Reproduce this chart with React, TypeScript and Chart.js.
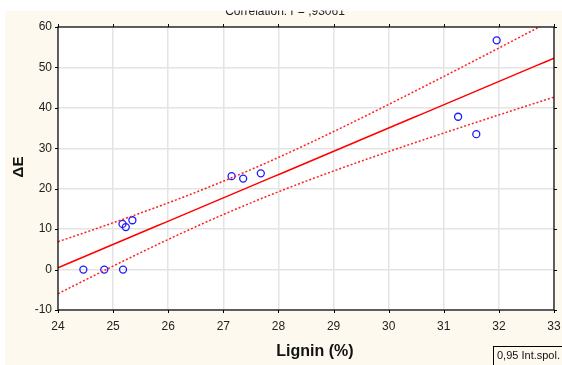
import React, { useEffect, useRef } from "react";
import { Chart, registerables } from "chart.js";

Chart.register(...registerables);

// Measured samples: lignin content (%) and colour difference ΔE
const LIGNIN = [24.46, 24.84, 25.18, 25.17, 25.23, 25.35, 27.15, 27.36, 27.68, 31.26, 31.59, 31.96];
const DELTA_E = [0, 0, 0, 11.3, 10.5, 12.2, 23.1, 22.5, 23.8, 37.8, 33.5, 56.7];

const X_TICKS = [24, 25, 26, 27, 28, 29, 30, 31, 32, 33];
const Y_TICKS = [-10, 0, 10, 20, 30, 40, 50, 60];

const TITLE = "Correlation: r = ,93061";
const X_TITLE = "Lignin (%)";
const Y_TITLE = "ΔE";
const LEGEND_TEXT = "0,95 Int.spol.";
const T_975_DF10 = 2.228; // Student t, 95 %, n - 2 = 10

// Least-squares line with 95 % confidence band for the mean
function fitLine(xs: number[], ys: number[]) {
  const n = xs.length;
  const mx = xs.reduce((a, b) => a + b, 0) / n;
  const my = ys.reduce((a, b) => a + b, 0) / n;
  let sxx = 0, sxy = 0;
  for (let i = 0; i < n; i++) {
    sxx += (xs[i] - mx) ** 2;
    sxy += (xs[i] - mx) * (ys[i] - my);
  }
  const b = sxy / sxx;
  const a = my - b * mx;
  let sse = 0;
  for (let i = 0; i < n; i++) sse += (ys[i] - (a + b * xs[i])) ** 2;
  const s = Math.sqrt(sse / (n - 2));
  const xMin = X_TICKS[0];
  const xMax = X_TICKS[X_TICKS.length - 1];
  const line: { x: number; y: number }[] = [];
  const upper: { x: number; y: number }[] = [];
  const lower: { x: number; y: number }[] = [];
  const steps = 60;
  for (let k = 0; k <= steps; k++) {
    const x = xMin + ((xMax - xMin) * k) / steps;
    const yhat = a + b * x;
    const half = T_975_DF10 * s * Math.sqrt(1 / n + (x - mx) ** 2 / sxx);
    line.push({ x, y: yhat });
    upper.push({ x, y: yhat + half });
    lower.push({ x, y: yhat - half });
  }
  return { line, upper, lower };
}

const CREAM = "#fdf9ef";
const FONT = "Arial, 'Liberation Sans', sans-serif";

const framePlugin = {
  id: "frame",
  beforeDraw(chart: any) {
    const { ctx, chartArea: ca, width, height } = chart;
    ctx.save();
    ctx.fillStyle = "#ffffff";
    ctx.fillRect(0, 0, width, height);
    ctx.fillStyle = CREAM;
    ctx.fillRect(5, 11, width - 5, height - 11);
    ctx.fillStyle = "#ffffff";
    ctx.fillRect(ca.left, ca.top, ca.right - ca.left, ca.bottom - ca.top);
    ctx.restore();
  },
  afterDraw(chart: any) {
    const { ctx, chartArea: ca, scales } = chart;
    ctx.save();
    // plot frame
    ctx.strokeStyle = "#000000";
    ctx.lineWidth = 1.2;
    ctx.strokeRect(ca.left, ca.top, ca.right - ca.left, ca.bottom - ca.top);
    // outward tick marks on all four sides
    ctx.lineWidth = 1;
    ctx.beginPath();
    for (const v of X_TICKS) {
      const px = Math.round(scales.x.getPixelForValue(v)) + 0.5;
      ctx.moveTo(px, ca.bottom);
      ctx.lineTo(px, ca.bottom + 3);
      ctx.moveTo(px, ca.top);
      ctx.lineTo(px, ca.top - 3);
    }
    for (const v of Y_TICKS) {
      const py = Math.round(scales.y.getPixelForValue(v)) + 0.5;
      ctx.moveTo(ca.left, py);
      ctx.lineTo(ca.left - 3, py);
      ctx.moveTo(ca.right, py);
      ctx.lineTo(ca.right + 3, py);
    }
    ctx.stroke();

    // title, cut at the top of the panel
    ctx.save();
    ctx.beginPath();
    ctx.rect(0, 10.5, chart.width, 30);
    ctx.clip();
    ctx.fillStyle = "#222222";
    ctx.font = `12px ${FONT}`;
    ctx.textAlign = "center";
    ctx.textBaseline = "alphabetic";
    ctx.fillText(TITLE, 285, 15);
    ctx.restore();

    // axis titles
    ctx.fillStyle = "#111111";
    ctx.font = `bold 16px ${FONT}`;
    ctx.textAlign = "center";
    ctx.textBaseline = "middle";
    ctx.fillText(X_TITLE, 315, 352);
    ctx.save();
    ctx.translate(19, 167);
    ctx.rotate(-Math.PI / 2);
    ctx.font = `bold 15px ${FONT}`;
    ctx.fillText(Y_TITLE, 0, 0);
    ctx.restore();

    // legend box
    ctx.strokeStyle = "#000000";
    ctx.lineWidth = 1;
    ctx.strokeRect(493.5, 346.5, 80, 24);
    ctx.fillStyle = "#111111";
    ctx.font = `11px ${FONT}`;
    ctx.textAlign = "left";
    ctx.textBaseline = "alphabetic";
    ctx.fillText(LEGEND_TEXT, 497, 359);
    ctx.restore();
  },
};

export default function App() {
  const ref = useRef<HTMLCanvasElement | null>(null);

  useEffect(() => {
    document.body.style.margin = "0";
    const canvas = ref.current;
    if (!canvas) return;
    const { line, upper, lower } = fitLine(LIGNIN, DELTA_E);
    const points = LIGNIN.map((x, i) => ({ x, y: DELTA_E[i] }));

    const chart = new Chart(canvas, {
      type: "scatter",
      data: {
        datasets: [
          {
            label: "upper",
            data: upper,
            showLine: true,
            borderColor: "#ff2020",
            borderWidth: 1.5,
            borderDash: [2, 2],
            pointRadius: 0,
            fill: false,
          },
          {
            label: "lower",
            data: lower,
            showLine: true,
            borderColor: "#ff2020",
            borderWidth: 1.5,
            borderDash: [2, 2],
            pointRadius: 0,
            fill: false,
          },
          {
            label: "fit",
            data: line,
            showLine: true,
            borderColor: "#ff0000",
            borderWidth: 1.5,
            pointRadius: 0,
            fill: false,
          },
          {
            label: "samples",
            data: points,
            showLine: false,
            pointRadius: 3.5,
            pointStyle: "circle",
            pointBackgroundColor: "rgba(0,0,0,0)",
            pointBorderColor: "#1a1aff",
            pointBorderWidth: 1.3,
          },
        ],
      },
      options: {
        animation: false,
        responsive: false,
        devicePixelRatio: 1,
        layout: { padding: { left: 0, top: 27, right: 8, bottom: 0 } },
        plugins: { legend: { display: false }, tooltip: { enabled: false }, title: { display: false } },
        scales: {
          x: {
            type: "linear",
            min: 24,
            max: 33,
            afterBuildTicks: (s: any) => {
              s.ticks = X_TICKS.map((v) => ({ value: v }));
            },
            afterFit: (s: any) => {
              s.height = 55;
              s.paddingLeft = 0;
              s.paddingRight = 0;
            },
            grid: { color: "#e4e4e4", lineWidth: 1.5, drawTicks: false },
            border: { display: false },
            ticks: {
              padding: 9,
              color: "#222222",
              font: { family: FONT, size: 12 },
              callback: (v: any) => String(v),
            },
          },
          y: {
            type: "linear",
            min: -10,
            max: 60,
            afterBuildTicks: (s: any) => {
              s.ticks = Y_TICKS.map((v) => ({ value: v }));
            },
            afterFit: (s: any) => {
              s.width = 58;
              s.paddingTop = 0;
              s.paddingBottom = 0;
            },
            grid: { color: "#e4e4e4", lineWidth: 1.5, drawTicks: false },
            border: { display: false },
            ticks: {
              padding: 6,
              color: "#222222",
              font: { family: FONT, size: 12 },
              callback: (v: any) => String(v),
            },
          },
        },
      },
      plugins: [framePlugin],
    });
    return () => chart.destroy();
  }, []);

  return <canvas ref={ref} width={562} height={365} style={{ display: "block", width: 562, height: 365 }} />;
}
